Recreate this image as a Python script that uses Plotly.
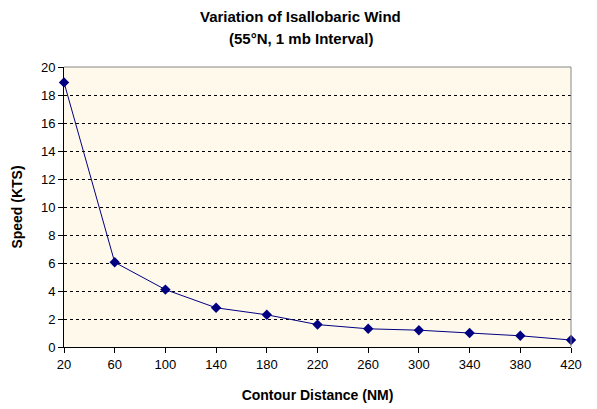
import plotly.graph_objects as go

distance_nm = [20, 60, 100, 140, 180, 220, 260, 300, 340, 380, 420]
speed_kts = [18.9, 6.05, 4.1, 2.8, 2.3, 1.6, 1.3, 1.2, 1.0, 0.8, 0.5]
title_lines = ["Variation of Isallobaric Wind", "(55°N, 1 mb Interval)"]

fig = go.Figure()
fig.add_trace(go.Scatter(
    x=distance_nm, y=speed_kts, mode="lines+markers",
    line=dict(color="#000080", width=1),
    marker=dict(symbol="diamond", size=8, color="#000080"),
    showlegend=False, cliponaxis=False,
))

font = "Arial, Liberation Sans, sans-serif"
fig.update_layout(
    width=597, height=409,
    margin=dict(l=56, r=34, t=59, b=70, autoexpand=False),
    paper_bgcolor="white",
    plot_bgcolor="#FFF9EC",
    font=dict(family=font, size=13, color="black"),
)
for i, (txt, yy) in enumerate(zip(title_lines, [1.179, 1.10])):
    fig.add_annotation(text="<b>" + txt + "</b>", xref="paper", yref="paper",
                       x=0.467, y=yy, xanchor="center", yanchor="middle",
                       showarrow=False, borderpad=0,
                       font=dict(family=font, size=15, color="black"))
fig.update_xaxes(
    range=[20, 420], tickmode="array", tickvals=distance_nm,
    ticks="outside", ticklen=5, tickcolor="black",
    showline=True, linecolor="black", linewidth=1, mirror=False,
    showgrid=False, zeroline=False, automargin=False,
    title=dict(text="<b>Contour Distance (NM)</b>", font=dict(size=14), standoff=19),
)
fig.update_yaxes(
    range=[0, 20], dtick=2,
    ticks="outside", ticklen=5, tickcolor="black",
    showline=True, linecolor="black", linewidth=1,
    showgrid=True, gridcolor="black", griddash="3px,3px", gridwidth=1,
    zeroline=False, automargin=False,
    title=dict(text="<b>Speed (KTS)</b>", font=dict(size=14), standoff=15),
)
# gray border top/right
fig.add_shape(type="line", xref="paper", yref="paper", x0=0, x1=1, y0=1, y1=1,
              line=dict(color="#888888", width=1))
fig.add_shape(type="line", xref="paper", yref="paper", x0=1, x1=1, y0=0, y1=1,
              line=dict(color="#888888", width=1))

fig.write_html("out.html")
